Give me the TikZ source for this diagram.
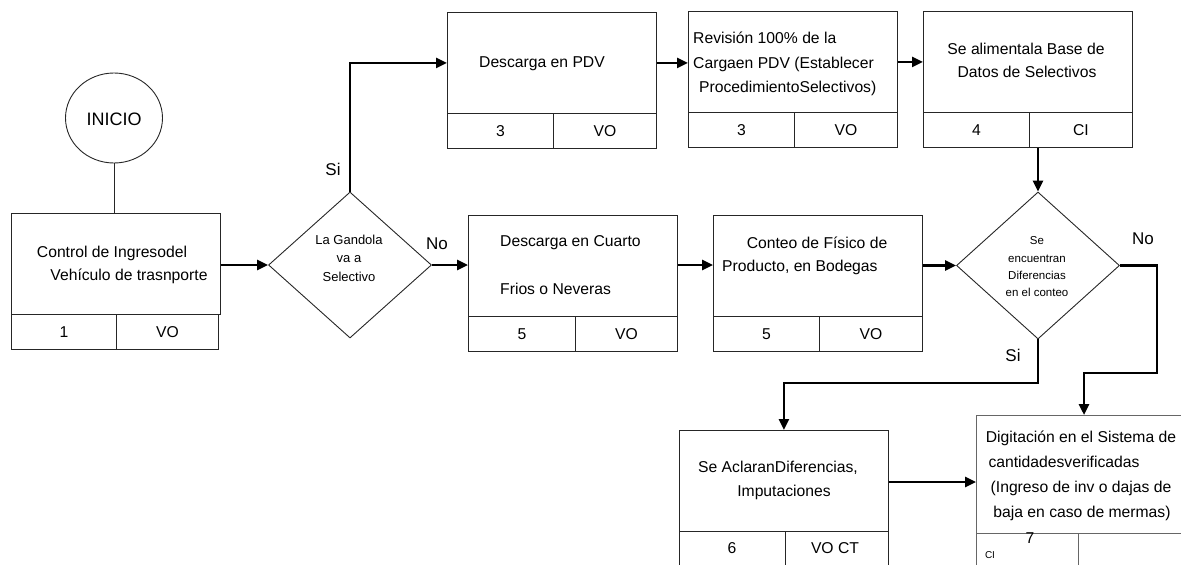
\documentclass[tikz,border=0pt]{standalone}
\usepackage{fontspec}
\setmainfont{Liberation Sans}
\usetikzlibrary{arrows.meta,shapes.geometric,calc}
\tikzset{
  boxmain/.style={draw=black!85, line width=0.9pt, inner sep=0pt, minimum width=209pt, minimum height=101pt, anchor=north west},
  boxcell/.style={draw=black!85, line width=0.9pt, inner sep=0pt, minimum height=35pt, anchor=north west},
  decis/.style={draw=black!85, line width=0.9pt, diamond, inner sep=0pt, minimum width=163pt, minimum height=146pt},
  conn/.style={line width=2.6pt, -{Triangle[length=11pt,width=10pt]}},
  tx/.style={font=\fontsize{15.7}{24}\selectfont, inner sep=0pt, text height=11.2pt, text depth=0pt},
  txs/.style={font=\fontsize{10}{12}\selectfont, inner sep=0pt, text height=7.2pt, text depth=0pt},
  dtA/.style={font=\fontsize{13}{16}\selectfont, inner sep=0pt, text height=9.3pt, text depth=0pt},
  dtB/.style={font=\fontsize{11.5}{14}\selectfont, inner sep=0pt, text height=8.2pt, text depth=0pt},
  lab/.style={font=\fontsize{17}{20}\selectfont, inner sep=0pt, text height=12.2pt, text depth=0pt},
}
\begin{document}
\begin{tikzpicture}[x=1pt,y=-1pt]
\useasboundingbox (0,0) rectangle (1181,565);
\clip (0,0) rectangle (1181,565);

% start
\node[draw=black!85, line width=0.9pt, ellipse, inner sep=0pt, minimum width=97pt, minimum height=90pt] (ini) at (114,118) {};
\node[font=\fontsize{18}{20}\selectfont, inner sep=0pt, text height=12.9pt, text depth=0pt] (initxt) at (114,119) {INICIO};

% box 1
\node[boxmain] (b1) at (11,213) {};
\node[boxcell, minimum width=105pt] (b1a) at (11,314) {};
\node[boxcell, minimum width=102pt] (b1b) at (116,314) {};
\node[tx] (b1t1) at (112,252) {Control de Ingresodel};
\node[tx] (b1t2) at (129,275) {Vehículo de trasnporte};
\node[tx] (b1n) at (b1a.center) {1};
\node[tx] (b1c) at (b1b.center) {VO};

% decision 1
\node[decis] (d1) at (350,265) {};
\node[dtA] (d1t1) at (349,240) {La Gandola};
\node[dtA] (d1t2) at (349,258) {va a};
\node[dtA] (d1t3) at (349,277) {Selectivo};

% box 2
\node[boxmain] (b2) at (447,12) {};
\node[boxcell, minimum width=106pt] (b2a) at (447,113) {};
\node[boxcell, minimum width=103pt] (b2b) at (553,113) {};
\node[tx] (b2t) at (542,62) {Descarga en PDV};
\node[tx] (b2n) at (b2a.center) {3};
\node[tx] (b2c) at (b2b.center) {VO};

% box 3
\node[boxmain] (b3) at (688,11) {};
\node[boxcell, minimum width=106pt] (b3a) at (688,112) {};
\node[boxcell, minimum width=103pt] (b3b) at (794,112) {};
\node[tx, anchor=west] (b3t1) at (693,38) {Revisión 100\% de la};
\node[tx, anchor=west] (b3t2) at (693,63) {Cargaen PDV (Establecer};
\node[tx, anchor=west] (b3t3) at (699,87) {ProcedimientoSelectivos)};
\node[tx] (b3n) at (b3a.center) {3};
\node[tx] (b3c) at (b3b.center) {VO};

% box 4
\node[boxmain] (b4) at (923,11) {};
\node[boxcell, minimum width=106pt] (b4a) at (923,112) {};
\node[boxcell, minimum width=103pt] (b4b) at (1029,112) {};
\node[tx] (b4t1) at (1026,49) {Se alimentala Base de};
\node[tx] (b4t2) at (1027,72) {Datos de Selectivos};
\node[tx] (b4n) at (b4a.center) {4};
\node[tx] (b4c) at (b4b.center) {CI};

% box 5
\node[boxmain] (b5) at (468,215) {};
\node[boxcell, minimum width=107pt] (b5a) at (468,316) {};
\node[boxcell, minimum width=102pt] (b5b) at (575,316) {};
\node[tx, anchor=west] (b5t1) at (500,241) {Descarga en Cuarto};
\node[tx, anchor=west] (b5t2) at (500,289) {Frios o Neveras};
\node[tx] (b5n) at (b5a.center) {5};
\node[tx] (b5c) at (b5b.center) {VO};

% box 6
\node[boxmain] (b6) at (713,215) {};
\node[boxcell, minimum width=106pt] (b6a) at (713,316) {};
\node[boxcell, minimum width=103pt] (b6b) at (819,316) {};
\node[tx] (b6t1) at (817,243) {Conteo de Físico de};
\node[tx, anchor=west] (b6t2) at (722,266) {Producto, en Bodegas};
\node[tx] (b6n) at (b6a.center) {5};
\node[tx] (b6c) at (b6b.center) {VO};

% decision 2
\node[decis, minimum height=147pt] (d2) at (1038,265.5) {};
\node[dtB] (d2t1) at (1037,240) {Se};
\node[dtB] (d2t2) at (1037,258) {encuentran};
\node[dtB] (d2t3) at (1037,275) {Diferencias};
\node[dtB] (d2t4) at (1037,292) {en el conteo};

% box 8
\node[boxmain] (b8) at (679,430) {};
\node[boxcell, minimum width=106pt] (b8a) at (679,531) {};
\node[boxcell, minimum width=103pt] (b8b) at (785,531) {};
\node[tx] (b8t1) at (778,467) {Se AclaranDiferencias,};
\node[tx] (b8t2) at (784,491) {Imputaciones};
\node[tx] (b8n) at (732,548) {6};
\node[tx] (b8c) at (835,548) {VO CT};

% box 7
\node[boxmain, draw=black!60, minimum width=214pt, minimum height=118pt] (b7) at (976,415) {};
\node[boxcell, draw=black!60, minimum width=102pt, minimum height=40pt] (b7a) at (976,533) {};
\node[boxcell, draw=black!60, minimum width=112pt, minimum height=40pt] (b7b) at (1078,533) {};
\node[tx] (b7t1) at (1081,437) {Digitación en el Sistema de};
\node[tx] (b7t2) at (1064,462) {cantidadesverificadas};
\node[tx] (b7t3) at (1081,487) {(Ingreso de inv o dajas de};
\node[tx] (b7t4) at (1082,512) {baja en caso de mermas)};
\node[tx] (b7n) at (1030,538) {7};
\node[txs] (b7c) at (990,555) {CI};

% labels
\node[lab] (si1) at (333,169) {Si};
\node[lab] (no1) at (437,243) {No};
\node[lab] (no2) at (1143,238) {No};
\node[lab] (si2) at (1013,355) {Si};

% connectors
\draw[line width=0.9pt, draw=black!85] (ini.south) -- (b1.north -| ini.south);
\draw[conn] (b1.east |- d1.west) -- (d1.west);
\draw[conn] (d1.north) |- (b2.west);
\draw[conn] (d1.east) -- (d1.east -| b5.west);
\draw[conn] (b2.east) -- (b2.east -| b3.west);
\draw[conn] (b3.east) -- (b3.east -| b4.west);
\draw[conn] (d2.north |- b4b.south) -- (d2.north);
\draw[conn] (b5.east |- d1.east) -- (b6.west |- d1.east);
\draw[conn] (b6.east |- d2.west) -- (d2.west);
\coordinate (ydown) at (1038,383);
\draw[conn] (d2.south) -- (ydown) -| (b8.north);
\coordinate (nr) at (1157,265.5);
\coordinate (nd) at (1157,373);
\coordinate (nl) at (1084,373);
\draw[conn] (d2.east) -- (nr) -- (nd) -- (nl) -- (nl |- b7.north);
\draw[conn] (b8.east |- 0,482) -- (b7.west |- 0,482);
\end{tikzpicture}
\end{document}
